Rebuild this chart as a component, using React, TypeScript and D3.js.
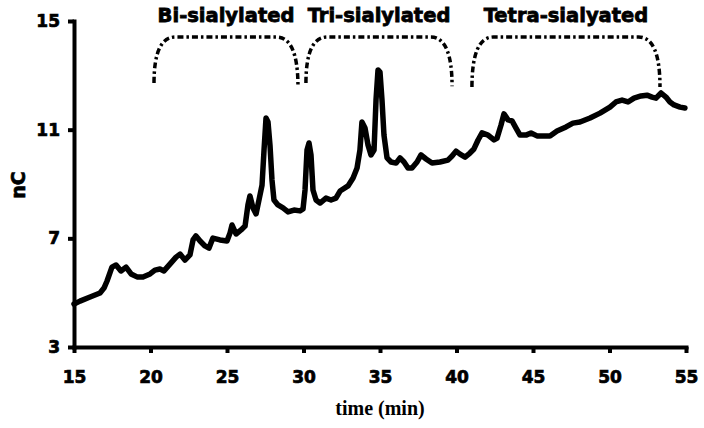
import * as d3 from 'd3';
import { useEffect, useRef } from 'react';

// retention time (min) and detector response (nC)
const times = [
  15.0, 15.39, 16.05, 16.7, 16.96, 17.16, 17.48, 17.75, 18.07, 18.4, 18.73, 19.12, 19.51, 19.97,
  20.29, 20.62, 20.88, 21.27, 21.67, 21.93, 22.25, 22.58, 22.78, 22.97, 23.24, 23.56, 23.82,
  24.08, 24.54, 25.0, 25.2, 25.33, 25.59, 25.92, 26.18, 26.37, 26.5, 26.7, 26.9, 27.09, 27.29,
  27.42, 27.55, 27.68, 27.81, 27.94, 28.07, 28.33, 28.66, 28.99, 29.38, 29.77, 29.97, 30.1,
  30.23, 30.36, 30.49, 30.62, 30.82, 31.08, 31.47, 31.8, 32.12, 32.39, 32.91, 33.24, 33.5,
  33.69, 33.82, 34.02, 34.22, 34.41, 34.61, 34.74, 34.87, 35.0, 35.13, 35.26, 35.46, 35.72,
  36.05, 36.31, 36.57, 36.83, 37.09, 37.42, 37.68, 38.01, 38.4, 38.92, 39.44, 39.71, 39.97,
  40.23, 40.56, 40.88, 41.14, 41.41, 41.67, 42.06, 42.45, 42.65, 42.91, 43.1, 43.37, 43.63,
  43.89, 44.15, 44.54, 44.87, 45.26, 46.11, 46.57, 47.16, 47.61, 48.07, 48.73, 49.38, 50.03,
  50.42, 50.82, 51.21, 51.6, 52.06, 52.45, 52.78, 53.04, 53.37, 53.69, 53.95, 54.22, 54.61,
  54.93,
];
const signal = [
  4.58, 4.69, 4.84, 4.99, 5.17, 5.43, 5.94, 6.02, 5.8, 5.94, 5.69, 5.58, 5.58, 5.69, 5.83, 5.87,
  5.8, 6.05, 6.31, 6.42, 6.2, 6.39, 6.94, 7.09, 6.9, 6.72, 6.64, 7.01, 6.94, 6.9, 7.2, 7.49, 7.16,
  7.31, 7.45, 8.23, 8.56, 8.12, 7.9, 8.41, 8.96, 10.25, 11.43, 11.28, 10.43, 9.15, 8.41, 8.23,
  8.12, 7.97, 8.04, 8.01, 8.08, 8.78, 10.25, 10.51, 10.07, 8.78, 8.41, 8.3, 8.48, 8.41, 8.48,
  8.74, 8.93, 9.22, 9.59, 10.25, 11.28, 11.06, 10.43, 10.07, 10.25, 12.09, 13.2, 13.12, 12.09,
  10.8, 9.96, 9.81, 9.77, 9.96, 9.81, 9.59, 9.59, 9.81, 10.07, 9.92, 9.77, 9.81, 9.88, 10.03,
  10.21, 10.1, 9.99, 10.14, 10.29, 10.62, 10.88, 10.8, 10.62, 10.69, 11.17, 11.58, 11.36, 11.32,
  11.06, 10.8, 10.8, 10.88, 10.77, 10.77, 10.95, 11.1, 11.24, 11.28, 11.43, 11.61, 11.83, 12.02,
  12.09, 12.02, 12.16, 12.24, 12.27, 12.2, 12.16, 12.35, 12.2, 12.02, 11.91, 11.83, 11.8,
];

const xTicks = [15, 20, 25, 30, 35, 40, 45, 50, 55];
const yTicks = [3, 7, 11, 15];

// sialylation groups and the span of each bracket
const groupNames = ['Bi-sialylated', 'Tri-sialylated', 'Tetra-sialyated'];
const groupStart = [20.23, 30.16, 41.01];
const groupEnd = [29.64, 39.71, 53.3];
const groupStartLow = [12.72, 12.72, 12.57];
const groupEndLow = [12.57, 12.6, 12.57];
const groupTop = 14.41;

const App = () => {
  const svgRef = useRef(null);

  useEffect(() => {
    var svg = d3.select(svgRef.current);
    svg.selectAll('*').remove();

    const x = d3.scaleLinear().domain([15, 55]).range([74, 686]);
    const y = d3.scaleLinear().domain([3, 15]).range([347, 21]);

    var sans = "'DejaVu Sans', sans-serif";

    // axes
    var xAxis = svg
      .append('g')
      .attr('transform', `translate(0, ${y(3)})`)
      .call(d3.axisBottom(x).tickValues(xTicks).tickSizeInner(6).tickSizeOuter(0).tickPadding(18));
    var yAxis = svg
      .append('g')
      .attr('transform', `translate(${x(15)}, 0)`)
      .call(d3.axisLeft(y).tickValues(yTicks).tickSizeInner(6).tickSizeOuter(0).tickPadding(8));

    [xAxis, yAxis].forEach((g) => {
      g.select('.domain').attr('stroke', '#000').attr('stroke-width', 4).attr('stroke-linecap', 'square');
      g.selectAll('.tick line').attr('stroke', '#000').attr('stroke-width', 4);
      g.selectAll('.tick text')
        .attr('fill', '#000')
        .attr('stroke', '#000')
        .attr('stroke-width', 0.7)
        .style('font-family', sans)
        .style('font-weight', 'bold')
        .style('font-size', '17px');
    });

    // axis titles
    svg
      .append('text')
      .attr('text-anchor', 'middle')
      .attr('transform', `translate(25, ${(y(3) + y(15)) / 2 + 1}) rotate(-90)`)
      .attr('stroke', '#000')
      .attr('stroke-width', 0.7)
      .style('font-family', sans)
      .style('font-weight', 'bold')
      .style('font-size', '19px')
      .text('nC');

    svg
      .append('text')
      .attr('text-anchor', 'middle')
      .attr('x', 380)
      .attr('y', 415)
      .style('font-family', "'Liberation Serif', serif")
      .style('font-weight', 'bold')
      .style('font-size', '20px')
      .text('time (min)');

    // chromatogram trace
    var pts = times.map((t, i) => [t, signal[i]]);
    var line = d3
      .line()
      .x((d) => x(d[0]))
      .y((d) => y(d[1]));
    svg
      .append('path')
      .datum(pts)
      .attr('d', line)
      .attr('fill', 'none')
      .attr('stroke', '#000')
      .attr('stroke-width', 5.5)
      .attr('stroke-linejoin', 'round')
      .attr('stroke-linecap', 'round');

    // group brackets with labels
    var r = 1.4; // corner width in minutes
    groupNames.forEach((name, i) => {
      var p = d3.path();
      p.moveTo(x(groupStart[i]), y(groupStartLow[i]));
      p.quadraticCurveTo(x(groupStart[i]), y(groupTop), x(groupStart[i] + r), y(groupTop));
      p.lineTo(x(groupEnd[i] - r), y(groupTop));
      p.quadraticCurveTo(x(groupEnd[i]), y(groupTop), x(groupEnd[i]), y(groupEndLow[i]));
      svg
        .append('path')
        .attr('d', p.toString())
        .attr('fill', 'none')
        .attr('stroke', '#000')
        .attr('stroke-width', 3.5)
        .attr('stroke-dasharray', '6 3 2.5 3');

      svg
        .append('text')
        .attr('text-anchor', 'middle')
        .attr('x', x((groupStart[i] + groupEnd[i]) / 2))
        .attr('y', 22)
        .attr('stroke', '#000')
        .attr('stroke-width', 0.8)
        .style('font-family', sans)
        .style('font-weight', 'bold')
        .style('font-size', '19.5px')
        .text(name);
    });
  }, []);

  return (
    <svg
      ref={svgRef}
      width={704}
      height={428}
      style={{ position: 'absolute', left: 0, top: 0, background: '#fff' }}
    ></svg>
  );
};

export default App;
